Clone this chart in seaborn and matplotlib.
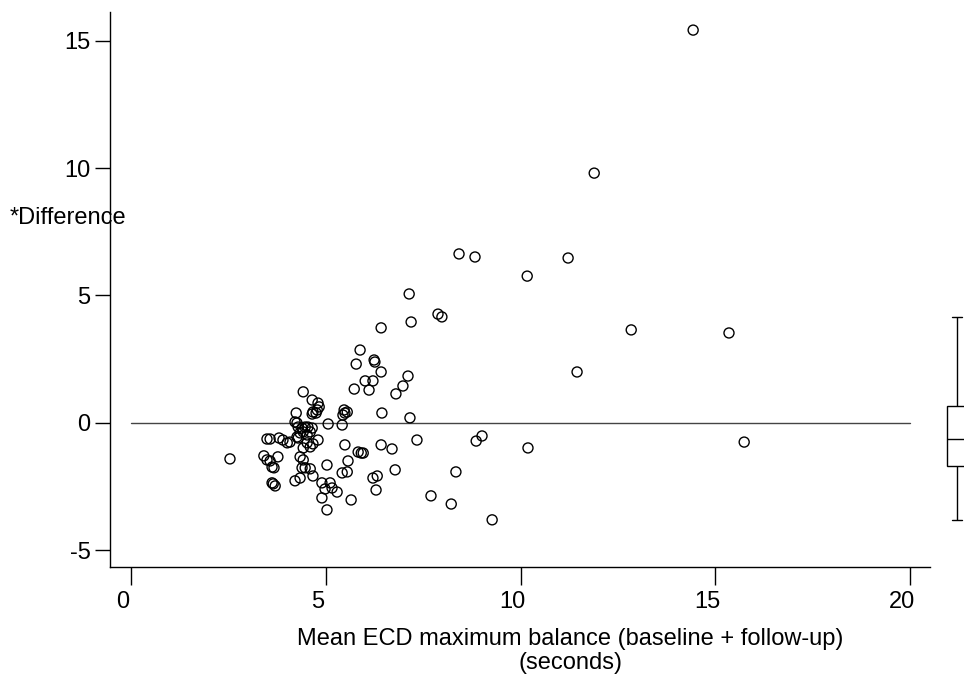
import matplotlib
matplotlib.use("Agg")
import matplotlib.pyplot as plt
import matplotlib.transforms as mtransforms
import seaborn as sns
import pandas as pd

sns.set_style("white")
plt.rcParams["font.family"] = ["Liberation Sans", "DejaVu Sans"]
plt.rcParams["text.color"] = "black"
plt.rcParams["xtick.color"] = "black"
plt.rcParams["ytick.color"] = "black"
plt.rcParams["axes.labelcolor"] = "black"

mean_ecd = [
    14.43, 11.89, 8.42, 8.83, 11.22, 10.17, 7.14, 7.88, 7.98, 7.19,
    6.42, 12.84, 15.35, 11.45, 5.88, 6.24, 6.26, 5.78, 6.42, 6.01,
    6.21, 5.73, 6.11, 6.98, 7.11, 6.80, 5.47, 5.49, 5.44, 6.44,
    7.16, 5.06, 5.42, 4.42, 4.65, 4.80, 4.83, 4.78, 4.67, 4.75,
    4.65, 4.24, 4.21, 4.26, 4.29, 4.39, 4.47, 4.54, 4.65, 4.34,
    4.42, 4.52, 4.60, 4.80, 4.67, 4.60, 4.52, 4.29, 4.26, 3.90,
    4.01, 4.08, 4.42, 4.34, 4.42, 2.54, 3.49, 3.57, 3.80, 3.41,
    3.49, 3.57, 3.62, 3.67, 3.77, 3.62, 3.65, 3.70, 4.39, 4.47,
    4.60, 4.67, 4.34, 4.21, 5.03, 5.57, 5.42, 5.55, 4.90, 5.11,
    4.98, 5.16, 5.29, 4.90, 5.65, 5.03, 9.01, 8.86, 10.19, 7.34,
    6.42, 6.70, 5.49, 5.83, 5.91, 5.96, 6.78, 8.34, 6.32, 6.21,
    6.29, 7.70, 8.22, 9.27, 15.74, 5.55,
]
difference = [
    15.41, 9.80, 6.63, 6.51, 6.47, 5.76, 5.06, 4.27, 4.16, 3.96,
    3.73, 3.65, 3.53, 2.00, 2.86, 2.47, 2.39, 2.31, 2.00, 1.65,
    1.65, 1.33, 1.29, 1.45, 1.84, 1.14, 0.51, 0.39, 0.31, 0.39,
    0.20, -0.04, -0.08, 1.22, 0.90, 0.78, 0.63, 0.51, 0.43, 0.39,
    0.35, 0.39, 0.04, 0.00, -0.16, -0.20, -0.16, -0.16, -0.20, -0.39,
    -0.35, -0.47, -0.35, -0.67, -0.82, -0.94, -0.78, -0.59, -0.55, -0.67,
    -0.78, -0.75, -0.98, -1.33, -1.45, -1.41, -0.63, -0.63, -0.59, -1.29,
    -1.45, -1.49, -1.73, -1.76, -1.33, -2.35, -2.39, -2.47, -1.76, -1.76,
    -1.80, -2.08, -2.16, -2.27, -1.65, -1.49, -1.96, -1.92, -2.35, -2.35,
    -2.59, -2.55, -2.71, -2.94, -3.02, -3.41, -0.51, -0.71, -0.98, -0.67,
    -0.86, -1.02, -0.86, -1.14, -1.18, -1.18, -1.84, -1.92, -2.08, -2.16,
    -2.63, -2.86, -3.18, -3.80, -0.75, 0.43,
]
x_ticks = [0, 5, 10, 15, 20]
y_ticks = [-5, 0, 5, 10, 15]
ref_x = [0, 20]
ref_y = [0, 0]

df = pd.DataFrame({"mean": mean_ecd, "diff": difference})

W, H = 964, 676
fig = plt.figure(figsize=(W / 100, H / 100), dpi=100)

left, right, bottom, top = 110, 930, 567, 12
ax = fig.add_axes([left / W, 1 - bottom / H, (right - left) / W, (bottom - top) / H])

xlim = (-0.54, 20.51)
ylim = (-5.65, 16.12)

ax.plot(ref_x, ref_y, color="#444444", lw=1.0, zorder=1)
sns.scatterplot(data=df, x="mean", y="diff", ax=ax, marker="o", s=52,
                facecolors="none", edgecolor="black", linewidth=1.0, zorder=2)

ax.set_xlim(*xlim)
ax.set_ylim(*ylim)
ax.set_xticks(x_ticks)
ax.set_yticks(y_ticks)
ax.set_xticklabels([str(v) for v in x_ticks], fontsize=17)
ax.set_yticklabels([str(v) for v in y_ticks], fontsize=17)
ax.tick_params(axis="x", direction="out", length=13, width=1, pad=4, color="black", bottom=True)
ax.tick_params(axis="y", direction="out", length=11, width=1, pad=3, color="black", left=True)
for lbl in ax.get_xticklabels():
    lbl.set_transform(lbl.get_transform() + mtransforms.ScaledTranslation(-8 / 100, 0, fig.dpi_scale_trans))

for s in ["top", "right"]:
    ax.spines[s].set_visible(False)
for s in ["left", "bottom"]:
    ax.spines[s].set_color("black")
    ax.spines[s].set_linewidth(1.0)

ax.set_xlabel("Mean ECD maximum balance (baseline + follow-up)\n(seconds)", fontsize=17,
              linespacing=1.12)
ax.xaxis.set_label_coords((570 - left) / (right - left), -0.11)
ax.set_ylabel("")
fig.text(10 / W, 1 - 218 / H, "*Difference", fontsize=17, ha="left", va="center")

# marginal box plot of the differences
bx_left = 937
bx = fig.add_axes([bx_left / W, 1 - bottom / H, 40 / W, (bottom - top) / H])
sns.boxplot(y=df["diff"], ax=bx, width=0.5, showfliers=False, whis=1.5,
            color="white", linecolor="black", linewidth=1.0)
bx.set_ylim(*ylim)
bx.axis("off")

fig.savefig("out.png", dpi=100)
